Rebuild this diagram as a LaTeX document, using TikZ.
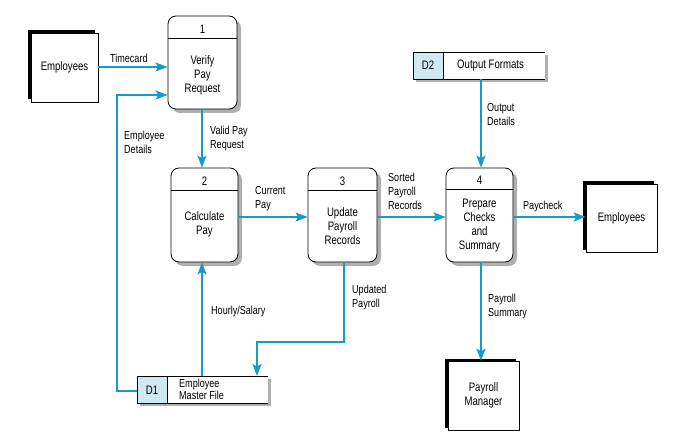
\documentclass[tikz,border=0pt]{standalone}
\usepackage{fontspec}
\setmainfont{Liberation Sans}[FakeStretch=0.78]
\usetikzlibrary{arrows.meta,shadows,calc}
\definecolor{flowblue}{RGB}{20,155,200}
\definecolor{storeblue}{RGB}{207,233,243}
\definecolor{shadowgray}{RGB}{175,175,175}
\tikzset{
  txt/.style={font=\fontsize{12.3}{14}\selectfont, inner sep=0pt, align=center},
  lbl/.style={font=\fontsize{11.6}{14}\selectfont, inner sep=0pt, align=left, anchor=north west},
  proc/.style={draw=black, line width=0.8pt, rounded corners=8pt, fill=white,
    copy shadow={shadow xshift=4pt, shadow yshift=-4pt, fill=shadowgray, draw=none}},
  entity/.style={draw=black, line width=0.6pt, fill=white,
    copy shadow={shadow xshift=-3pt, shadow yshift=2.5pt, fill=black, draw=none}},
  flow/.style={draw=flowblue, line width=1.8pt, -{Stealth[length=12pt,width=9pt,inset=2.5pt]}},
}
\begin{document}
\begin{tikzpicture}[x=1pt,y=-1pt]
\useasboundingbox (0,0) rectangle (698,438);

% ---------- processes ----------
\node[proc, minimum width=69pt, minimum height=93pt] (p1) at (202.5,62.5) {};
\node[proc, minimum width=67pt, minimum height=94pt] (p2) at (204.5,215) {};
\node[proc, minimum width=69pt, minimum height=94pt] (p3) at (342.5,215) {};
\node[proc, minimum width=67pt, minimum height=94pt] (p4) at (479.5,215) {};
\draw[line width=0.8pt] ($(p1.north west)+(0,23)$) -- ($(p1.north east)+(0,23)$);
\draw[line width=0.8pt] ($(p2.north west)+(0,23)$) -- ($(p2.north east)+(0,23)$);
\draw[line width=0.8pt] ($(p3.north west)+(0,23)$) -- ($(p3.north east)+(0,23)$);
\draw[line width=0.8pt] ($(p4.north west)+(0,22)$) -- ($(p4.north east)+(0,22)$);
\node[txt] (n1) at (202.5,29) {1};
\node[txt] (n2) at (204.5,181) {2};
\node[txt] (n3) at (342.5,181) {3};
\node[txt] (n4) at (479.5,180) {4};
\node[txt] (t1) at (202.5,75) {Verify\\Pay\\Request};
\node[txt] (t2) at (204.5,224) {Calculate\\Pay};
\node[txt] (t3) at (342.5,226) {Update\\Payroll\\Records};
\node[txt] (t4) at (479.5,226) {Prepare\\Checks\\and\\Summary};

% ---------- external entities ----------
\node[entity, minimum width=67pt, minimum height=69pt, txt] (e1) at (64.5,67.5) {Employees};
\node[entity, minimum width=71pt, minimum height=68pt, txt] (e2) at (621.5,218) {Employees};
\node[entity, minimum width=71pt, minimum height=69pt, txt] (e3) at (483.5,395.5) {Payroll\\Manager};

% ---------- data stores ----------
% D2
\fill[shadowgray] (416,55) rectangle (548,82);
\fill[white] (413,52) rectangle (545,79);
\fill[storeblue] (413,52) rectangle (443,79);
\draw[line width=0.8pt] (545,52) -- (413,52) -- (413,79) -- (545,79);
\draw[line width=0.8pt] (443,52) -- (443,79);
\node[txt] (d2id) at (428,65.5) {D2};
\node[txt, anchor=west] (d2) at (457,65.5) {Output Formats};
\coordinate (d2b) at (481,79);
% D1
\fill[shadowgray] (140,379) rectangle (271,406);
\fill[white] (137,376) rectangle (268,403);
\fill[storeblue] (137,376) rectangle (167,403);
\draw[line width=0.8pt] (268,376) -- (137,376) -- (137,403) -- (268,403);
\draw[line width=0.8pt] (167,376) -- (167,403);
\node[txt] (d1id) at (152,390) {D1};
\node[lbl, font=\fontsize{11.6}{12.5}\selectfont] (d1) at (179,378.5) {Employee\\Master File};
\coordinate (d1l) at (137,391);
\coordinate (d1a) at (202,376);
\coordinate (d1b) at (257,376);

% ---------- flows ----------
\draw[flow] (e1.east |- 0,67) -- (p1.west |- 0,67);
\draw[flow] (d1l) -- (117,391) -- (117,95) -- (p1.west |- 0,95);
\draw[flow] (p1.south -| 202,0) -- (p2.north -| 202,0);
\draw[flow] (p2.east |- 0,217) -- (p3.west |- 0,217);
\draw[flow] (p3.east |- 0,217) -- (p4.west |- 0,217);
\draw[flow] (d1a) -- (p2.south -| 202,0);
\draw[flow] (p3.south -| 344,0) -- (344,342) -- (257,342) -- (d1b);
\draw[flow] (d2b) -- (p4.north -| 481,0);
\draw[flow] (p4.east |- 0,217) -- (e2.west |- 0,217);
\draw[flow] (p4.south -| 481,0) -- (e3.north -| 481,0);

% ---------- labels ----------
\node[lbl, anchor=west] (l1) at (110,58) {Timecard};
\node[lbl] (l2) at (124,131) {Employee\\Details};
\node[lbl] (l3) at (210,126) {Valid Pay\\Request};
\node[lbl] (l4) at (255,186) {Current\\Pay};
\node[lbl] (l5) at (388,173) {Sorted\\Payroll\\Records};
\node[lbl] (l6) at (487,103) {Output\\Details};
\node[lbl, anchor=west] (l7) at (523,207) {Paycheck};
\node[lbl] (l8) at (488,294) {Payroll\\Summary};
\node[lbl, anchor=west] (l9) at (211,312) {Hourly/Salary};
\node[lbl] (l10) at (352,285) {Updated\\Payroll};
\end{tikzpicture}
\end{document}
